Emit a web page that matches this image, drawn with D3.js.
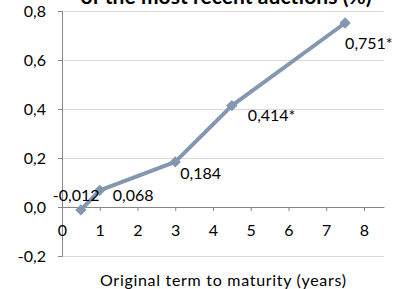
<!DOCTYPE html>
<html><head><meta charset="utf-8">
<script src="https://cdn.jsdelivr.net/npm/d3@7"></script>
<style>html,body{margin:0;padding:0;background:#fff;}svg{display:block;}</style>
</head><body>
<svg id="c" width="396" height="289"></svg>
<script>
const terms = [0.5, 1, 3, 4.5, 7.5];
const yields = [-0.012, 0.068, 0.184, 0.414, 0.751];
const labels = ["-0,012", "0,068", "0,184", "0,414*", "0,751*"];
const xTicks = [0,1,2,3,4,5,6,7,8];
const yTicks = [-0.2, 0, 0.2, 0.4, 0.6, 0.8];
const title = "of the most recent auctions (%)";
const xTitle = "Original term to maturity (years)";

const font = "Lato, 'Open Sans', sans-serif";
const svg = d3.select("#c");
const x = d3.scaleLinear().domain([0, 8.53]).range([62, 384]);
const y = d3.scaleLinear().domain([-0.2, 0.8]).range([256, 11]);
const fmt = v => d3.format(".1f")(v).replace(".", ",").replace("−","-");

// gridlines
svg.append("g").selectAll("line").data(yTicks.filter(v => v !== 0)).join("line")
  .attr("x1", x.range()[0]).attr("x2", x.range()[1])
  .attr("y1", d => y(d)).attr("y2", d => y(d))
  .attr("stroke", "#d9d9d9").attr("stroke-width", 1).attr("shape-rendering","crispEdges");

// y axis
const ya = svg.append("g").attr("transform", `translate(${x(0)},0)`)
  .call(d3.axisLeft(y).tickValues(yTicks).tickFormat(fmt).tickSize(4).tickPadding(12));
ya.select(".domain").attr("stroke", "#868686");
ya.selectAll(".tick line").attr("stroke", "#868686");
ya.selectAll("text").attr("font-family", font).attr("font-size", 16).attr("fill", "#000");

// x axis at y=0
const xa = svg.append("g").attr("transform", `translate(0,${y(0)})`)
  .call(d3.axisBottom(x).tickValues(xTicks).tickFormat(d3.format("d")).tickSize(4).tickPadding(14).tickSizeOuter(0));
xa.select(".domain").attr("stroke", "#868686");
xa.selectAll(".tick line").attr("stroke", "#868686");
xa.selectAll("text").attr("font-family", font).attr("font-size", 16).attr("fill", "#000");

// line
const data = terms.map((t, i) => ({t, v: yields[i], l: labels[i]}));
svg.append("path").datum(data)
  .attr("d", d3.line().x(d => x(d.t)).y(d => y(d.v)))
  .attr("fill", "none").attr("stroke", "#8497b0").attr("stroke-width", 4).attr("stroke-linejoin","round");

svg.append("g").selectAll("path").data(data).join("path")
  .attr("d", d3.symbol().type(d3.symbolSquare).size(64))
  .attr("transform", d => `translate(${x(d.t)},${y(d.v)}) rotate(45)`)
  .attr("fill", "#8497b0");

// data labels
const offs = [[-28,-15],[13,5],[5,11],[16,10],[0,20]];
svg.append("g").selectAll("text").data(data).join("text")
  .attr("x", (d,i) => x(d.t) + offs[i][0])
  .attr("y", (d,i) => y(d.v) + offs[i][1])
  .attr("dy", "0.35em")
  .attr("font-family", font).attr("font-size", 16).attr("fill", "#000")
  .text(d => d.l);

// title (cropped at top)
svg.append("text").attr("x", 226).attr("y", 4)
  .attr("text-anchor", "middle").attr("font-family", font).attr("font-weight", "bold")
  .attr("font-size", 21).attr("textLength", 291).attr("lengthAdjust", "spacing")
  .attr("fill", "#000").text(title);

// x axis title
svg.append("text").attr("x", 223).attr("y", 286)
  .attr("text-anchor", "middle").attr("font-family", font).attr("font-size", 16)
  .attr("textLength", 246).attr("lengthAdjust", "spacing")
  .attr("fill", "#000").text(xTitle);
</script>
</body></html>
